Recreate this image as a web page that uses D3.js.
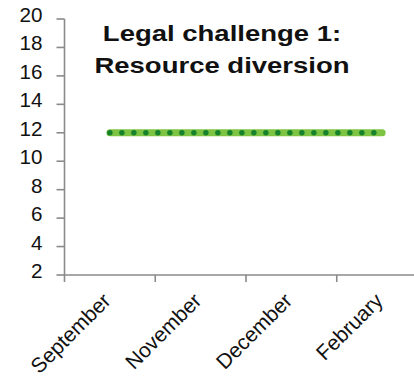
<!DOCTYPE html>
<html>
<head>
<meta charset="utf-8">
<script src="https://cdn.jsdelivr.net/npm/d3@7"></script>
<style>
  html, body { margin: 0; padding: 0; background: #fff; }
  svg { display: block; }
  text { font-family: "Liberation Sans", Arial, sans-serif; fill: #111; }
</style>
</head>
<body>
<svg id="chart" width="414" height="381"></svg>
<script>
// Chart data
const months = ["September", "November", "December", "February"];
const values = [12, 12, 12, 12];
const yTicks = [2, 4, 6, 8, 10, 12, 14, 16, 18, 20];
const titleLines = ["Legal challenge 1:", "Resource diversion"];

const svg = d3.select("#chart");

const x = d3.scaleBand().domain(months).range([64.5, 427.5]);
const y = d3.scaleLinear().domain([2, 20]).range([275, 19]);

const axisColor = "#8a8a8a";

// Y axis
const yAxis = svg.append("g");
yAxis.append("line")
  .attr("x1", x.range()[0]).attr("x2", x.range()[0])
  .attr("y1", y(20)).attr("y2", y(2))
  .attr("stroke", axisColor).attr("stroke-width", 1.6);
yAxis.selectAll("line.tick").data(yTicks).enter().append("line")
  .attr("class", "tick")
  .attr("x1", x.range()[0] - 8).attr("x2", x.range()[0])
  .attr("y1", d => y(d)).attr("y2", d => y(d))
  .attr("stroke", axisColor).attr("stroke-width", 1.6);
yAxis.selectAll("text").data(yTicks).enter().append("text")
  .attr("text-anchor", "end")
  .attr("font-size", 19.5)
  .attr("transform", d => `translate(42.5,${y(d) + 3}) scale(1.06,1)`)
  .text(d => d);

// X axis: ticks sit on category boundaries
const xAxis = svg.append("g");
xAxis.append("line")
  .attr("x1", x.range()[0]).attr("x2", x.range()[1])
  .attr("y1", y(2)).attr("y2", y(2))
  .attr("stroke", axisColor).attr("stroke-width", 1.6);
xAxis.selectAll("line.tick").data(months).enter().append("line")
  .attr("class", "tick")
  .attr("x1", d => x(d)).attr("x2", d => x(d))
  .attr("y1", y(2)).attr("y2", y(2) + 7)
  .attr("stroke", axisColor).attr("stroke-width", 1.6);
xAxis.selectAll("text").data(months).enter().append("text")
  .attr("text-anchor", "end")
  .attr("font-size", 21)
  .attr("transform", d => `translate(${x(d) + x.bandwidth() / 2 + 2},${y(2) + 27}) rotate(-45)`)
  .text(d => d);

// Series line: light green stroke with dark green round dots
const pts = months.map((m, i) => [x(m) + x.bandwidth() / 2, y(values[i])]);
const line = d3.line();
svg.append("path")
  .attr("d", line(pts))
  .attr("fill", "none")
  .attr("stroke", "#7dc443")
  .attr("stroke-width", 7)
  .attr("stroke-linecap", "round");
svg.append("path")
  .attr("d", line(pts))
  .attr("fill", "none")
  .attr("stroke", "#17812c")
  .attr("stroke-width", 5.5)
  .attr("stroke-linecap", "round")
  .attr("stroke-dasharray", "0 12");

// Title
svg.append("g").selectAll("text").data(titleLines).enter().append("text")
  .attr("text-anchor", "middle")
  .attr("font-size", 22)
  .attr("font-weight", "bold")
  .attr("transform", (d, i) => `translate(222,${40.5 + i * 32.5}) scale(1.25,1)`)
  .text(d => d);
</script>
</body>
</html>
